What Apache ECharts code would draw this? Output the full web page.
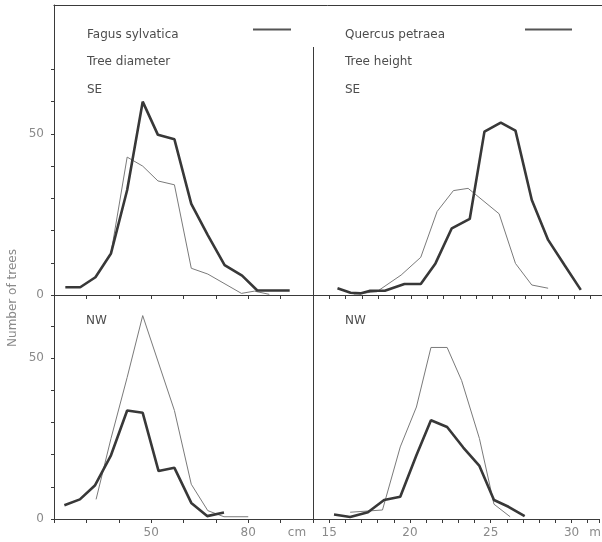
<!DOCTYPE html>
<html>
<head>
<meta charset="utf-8">
<script src="https://cdn.jsdelivr.net/npm/echarts@6/dist/echarts.min.js"></script>
<style>html,body{margin:0;padding:0;background:#fff;}#c{width:602px;height:542px;}</style>
</head>
<body>
<div id="c"></div>
<script>
// ---- Data ----
// Top-left: SE, tree diameter (cm)
const seDiamThickX = [23.5, 28.1, 32.8, 37.6, 42.6, 47.4, 52.1, 57.2, 62.4, 67.5, 72.7, 78.1, 82.8, 92.8];
const seDiamThickY = [2.4, 2.4, 5.5, 12.9, 32.6, 60, 49.7, 48.3, 28.3, 18.6, 9.3, 6, 1.4, 1.4];
const seDiamThinX = [37.6, 42.6, 47.4, 52.1, 57.2, 62.4, 67.5, 77.9, 81.9, 86.5];
const seDiamThinY = [12.9, 42.8, 40, 35.4, 34.2, 8.3, 6.5, 0.5, 1.2, 0.2];
// Bottom-left: NW, tree diameter (cm)
const nwDiamThickX = [23.2, 28, 32.7, 37.6, 42.6, 47.4, 52.3, 57.2, 62.4, 67.3, 72.5];
const nwDiamThickY = [4.3, 6.1, 10.5, 19.8, 33.7, 33, 14.9, 15.9, 5, 0.9, 2];
const nwDiamThinX = [33, 37.6, 42.6, 47.4, 57.2, 62.4, 67.5, 72.5, 80];
const nwDiamThinY = [6.1, 25, 44, 63.2, 33.7, 10.8, 2.6, 0.7, 0.7];
// Top-right: SE, tree height (m)
const seHeightThickX = [15.5, 16.3, 16.9, 17.5, 18.4, 19.6, 20.6, 21.5, 22.5, 23.6, 24.5, 25.5, 26.4, 27.4, 28.4, 29.4, 30.4];
const seHeightThickY = [2.1, 0.7, 0.5, 1.3, 1.3, 3.4, 3.4, 9.8, 20.7, 23.6, 50.7, 53.5, 51, 29.5, 17.1, 9.3, 1.6];
const seHeightThinX = [16.5, 17.9, 19.4, 20.6, 21.6, 22.6, 23.5, 25.4, 26.4, 27.4, 28.4];
const seHeightThinY = [0.3, 1.0, 6.2, 11.7, 25.9, 32.4, 33.1, 25.2, 9.8, 3.1, 2.1];
// Bottom-right: NW, tree height (m)
const nwHeightThickX = [15.3, 16.3, 17.4, 18.4, 19.4, 20.4, 21.3, 22.3, 23.3, 24.3, 25.2, 26.1, 27.1];
const nwHeightThickY = [1.4, 0.6, 2.1, 5.9, 6.9, 19.8, 30.7, 28.6, 22.2, 16.5, 5.9, 3.8, 0.9];
const nwHeightThinX = [16.3, 18.3, 19.4, 20.4, 21.3, 22.3, 23.2, 24.3, 25.2, 26.2];
const nwHeightThinY = [2.1, 2.8, 22.4, 34.8, 53.3, 53.3, 43, 25, 4.6, 0.7];

// Tick labels and tick positions
const diamLabels = [50, 80];
const heightLabels = [15, 20, 25, 30];
const countLabels = [0, 50];
const countTicksTop = [0, 10, 20, 30, 40, 50, 60, 70];
const countTicksBottom = [0, 10, 20, 30, 40, 50, 60];

// Texts
const speciesLeft = 'Fagus sylvatica';
const speciesRight = 'Quercus petraea';
const varLeft = 'Tree diameter';
const varRight = 'Tree height';
const yName = 'Number of trees';

// ---- Chart ----
const FONT = '"DejaVu Sans", sans-serif';
const AX = '#3a3a3a';
const LBL = '#8a8a8a';
const TXT = '#4d4d4d';

function pairs(xs, ys) { return xs.map((x, i) => [x, ys[i]]); }

function xAx(gi, min, max, interval, labels) {
  return {
    type: 'value', gridIndex: gi, min: min, max: max, interval: interval,
    axisLine: { show: true, onZero: false, lineStyle: { color: AX, width: 1 } },
    axisTick: { show: true, length: 4, lineStyle: { color: AX } },
    splitLine: { show: false },
    axisLabel: {
      show: !!labels, margin: 8, color: LBL, fontFamily: FONT, fontSize: 12,
      formatter: v => (labels && labels.indexOf(Math.round(v * 100) / 100) >= 0) ? String(v) : ''
    }
  };
}
function yAx(gi, max, showLine, labels, ticks) {
  return {
    type: 'value', gridIndex: gi, min: 0, max: max, interval: 10,
    axisLine: { show: showLine, lineStyle: { color: AX, width: 1 } },
    axisTick: ticks ? { show: true, length: 3, customValues: ticks, lineStyle: { color: AX } } : { show: false },
    splitLine: { show: false },
    axisLabel: {
      show: !!labels, margin: 10, color: LBL, fontFamily: FONT, fontSize: 12,
      formatter: v => (labels && labels.indexOf(v) >= 0) ? String(v) : ''
    }
  };
}
function line(gi, xs, ys, thick) {
  return {
    type: 'line', xAxisIndex: gi, yAxisIndex: gi, data: pairs(xs, ys),
    symbol: 'none', silent: true, animation: false,
    lineStyle: thick ? { color: '#383838', width: 2.6 } : { color: '#7a7a7a', width: 1 },
    z: thick ? 3 : 2
  };
}
function txt(x, y, s, color, align) {
  return {
    type: 'text', x: x, y: y, silent: true,
    style: { text: s, fill: color || TXT, font: '12px ' + FONT,
      align: align || 'left', textAlign: align || 'left',
      verticalAlign: 'middle', textVerticalAlign: 'middle' }
  };
}
function seg(x1, y1, x2, y2, color, w) {
  return { type: 'line', silent: true, shape: { x1: x1, y1: y1, x2: x2, y2: y2 },
    style: { stroke: color, lineWidth: w } };
}

const chart = echarts.init(document.getElementById('c'), null, { renderer: 'canvas' });
chart.setOption({
  animation: false,
  backgroundColor: '#ffffff',
  grid: [
    { left: 54, top: 5, width: 259, height: 290 },
    { left: 54, top: 295, width: 259, height: 224 },
    { left: 313, top: 5, width: 289, height: 290 },
    { left: 313, top: 295, width: 289, height: 224 }
  ],
  xAxis: [
    xAx(0, 20, 100, 10, null),
    xAx(1, 20, 100, 10, diamLabels),
    xAx(2, 14, 31.7, 1, null),
    xAx(3, 14, 31.7, 1, heightLabels)
  ],
  yAxis: [
    yAx(0, 90, true, countLabels, countTicksTop),
    yAx(1, 69.6, true, countLabels, countTicksBottom),
    yAx(2, 90, false, null, null),
    yAx(3, 69.6, false, null, null)
  ],
  series: [
    line(0, seDiamThinX, seDiamThinY, false),
    line(0, seDiamThickX, seDiamThickY, true),
    line(1, nwDiamThinX, nwDiamThinY, false),
    line(1, nwDiamThickX, nwDiamThickY, true),
    line(2, seHeightThinX, seHeightThinY, false),
    line(2, seHeightThickX, seHeightThickY, true),
    line(3, nwHeightThinX, nwHeightThinY, false),
    line(3, nwHeightThickX, nwHeightThickY, true)
  ],
  graphic: [
    seg(53.5, 5.5, 602, 5.5, AX, 1),
    seg(313.5, 47, 313.5, 519, AX, 1),
    seg(253, 29.5, 291, 29.5, '#555555', 1.8),
    seg(525, 29.5, 572, 29.5, '#555555', 1.8),
    txt(87, 35, speciesLeft),
    txt(87, 62, varLeft),
    txt(87, 89.5, 'SE'),
    txt(345, 35, speciesRight),
    txt(345, 62, varRight),
    txt(345, 89.5, 'SE'),
    txt(86, 321, 'NW'),
    txt(345, 321, 'NW'),
    txt(297, 533, 'cm', LBL, 'center'),
    txt(595, 533, 'm', LBL, 'center'),
    {
      type: 'text', x: 13, y: 298, rotation: Math.PI / 2, silent: true,
      style: { text: yName, fill: LBL, font: '12px ' + FONT,
        align: 'center', textAlign: 'center', verticalAlign: 'middle', textVerticalAlign: 'middle' }
    }
  ]
});
</script>
</body>
</html>
